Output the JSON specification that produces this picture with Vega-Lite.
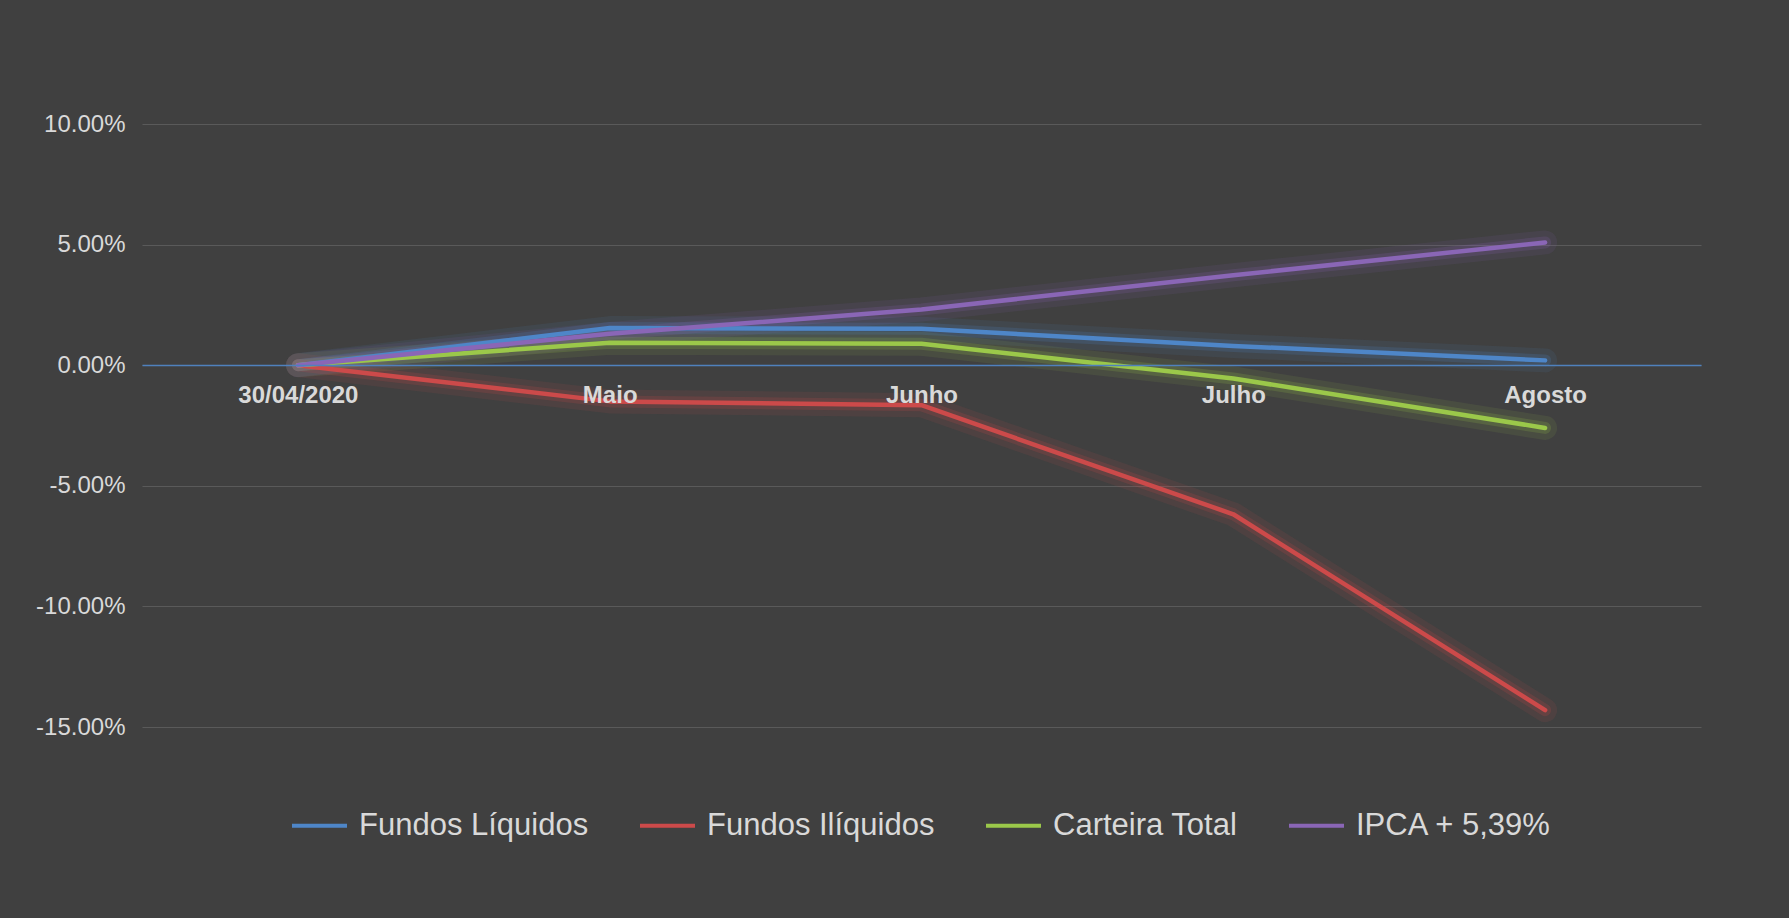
{
  "$schema": "https://vega.github.io/schema/vega-lite/v6.json",
  "autosize": {"type": "none"},
  "width": 1559,
  "height": 603,
  "padding": {"left": 142, "top": 124, "right": 88, "bottom": 191},
  "background": "#404040",
  "config": {
    "view": {"stroke": null},
    "font": "Liberation Sans"
  },
  "data": {
    "values": [
      {"period": "30/04/2020", "series": "Fundos Líquidos", "value": 0},
      {"period": "Maio", "series": "Fundos Líquidos", "value": 0.0154},
      {"period": "Junho", "series": "Fundos Líquidos", "value": 0.0151},
      {"period": "Julho", "series": "Fundos Líquidos", "value": 0.0080},
      {"period": "Agosto", "series": "Fundos Líquidos", "value": 0.0020},
      {"period": "30/04/2020", "series": "Fundos Ilíquidos", "value": 0},
      {"period": "Maio", "series": "Fundos Ilíquidos", "value": -0.0150},
      {"period": "Junho", "series": "Fundos Ilíquidos", "value": -0.0166},
      {"period": "Julho", "series": "Fundos Ilíquidos", "value": -0.0618},
      {"period": "Agosto", "series": "Fundos Ilíquidos", "value": -0.1430},
      {"period": "30/04/2020", "series": "Carteira Total", "value": 0},
      {"period": "Maio", "series": "Carteira Total", "value": 0.0093},
      {"period": "Junho", "series": "Carteira Total", "value": 0.0089},
      {"period": "Julho", "series": "Carteira Total", "value": -0.0055},
      {"period": "Agosto", "series": "Carteira Total", "value": -0.0260},
      {"period": "30/04/2020", "series": "IPCA + 5,39%", "value": 0},
      {"period": "Maio", "series": "IPCA + 5,39%", "value": 0.0130},
      {"period": "Junho", "series": "IPCA + 5,39%", "value": 0.0231},
      {"period": "Julho", "series": "IPCA + 5,39%", "value": 0.0373},
      {"period": "Agosto", "series": "IPCA + 5,39%", "value": 0.0509}
    ]
  },
  "encoding": {
    "x": {
      "field": "period",
      "type": "ordinal",
      "sort": ["30/04/2020", "Maio", "Junho", "Julho", "Agosto"],
      "scale": {"type": "point", "padding": 0.5},
      "axis": {
        "title": null,
        "orient": "bottom",
        "offset": -362,
        "zindex": 1,
        "labelAngle": 0,
        "labelFontSize": 24,
        "labelFontWeight": "bold",
        "labelColor": "#D9D9D9",
        "labelPadding": 18,
        "ticks": false,
        "grid": false,
        "domainColor": "#4F81BD",
        "domainWidth": 1.5
      }
    },
    "y": {
      "field": "value",
      "type": "quantitative",
      "scale": {"domain": [-0.15, 0.10], "nice": false, "zero": false},
      "axis": {
        "title": null,
        "values": [-0.15, -0.10, -0.05, 0, 0.05, 0.10],
        "labelExpr": "replace(format(datum.value, '.2%'), '\u2212', '-')",
        "labelFontSize": 24,
        "labelColor": "#D9D9D9",
        "labelPadding": 17,
        "ticks": false,
        "domain": false,
        "gridColor": "#5A5A5A",
        "gridWidth": 1
      }
    },
    "color": {
      "field": "series",
      "type": "nominal",
      "sort": ["Fundos Líquidos", "Fundos Ilíquidos", "Carteira Total", "IPCA + 5,39%"],
      "scale": {"domain": ["Fundos Líquidos", "Fundos Ilíquidos", "Carteira Total", "IPCA + 5,39%"], "range": ["#4E86C8", "#CC4A4A", "#9BC84A", "#8A66B6"]},
      "legend": {
        "title": null,
        "orient": "none",
        "legendX": 148,
        "legendY": 672,
        "direction": "horizontal",
        "symbolType": "stroke",
        "symbolSize": 3025,
        "symbolStrokeWidth": 4,
        "symbolOpacity": 1,
        "labelFontSize": 31,
        "labelLimit": 0,
        "labelColor": "#D9D9D9",
        "labelOffset": 10,
        "columnPadding": 43
      }
    }
  },
  "layer": [
    {
      "mark": {"type": "line", "strokeWidth": 24, "opacity": 0.1, "strokeCap": "round", "strokeJoin": "round"},
      "encoding": {}
    },
    {
      "mark": {"type": "line", "strokeWidth": 12, "opacity": 0.18, "strokeCap": "round", "strokeJoin": "round"},
      "encoding": {}
    },
    {
      "mark": {"type": "line", "strokeWidth": 4.5, "strokeCap": "round", "strokeJoin": "round"},
      "encoding": {}
    }
  ]
}
